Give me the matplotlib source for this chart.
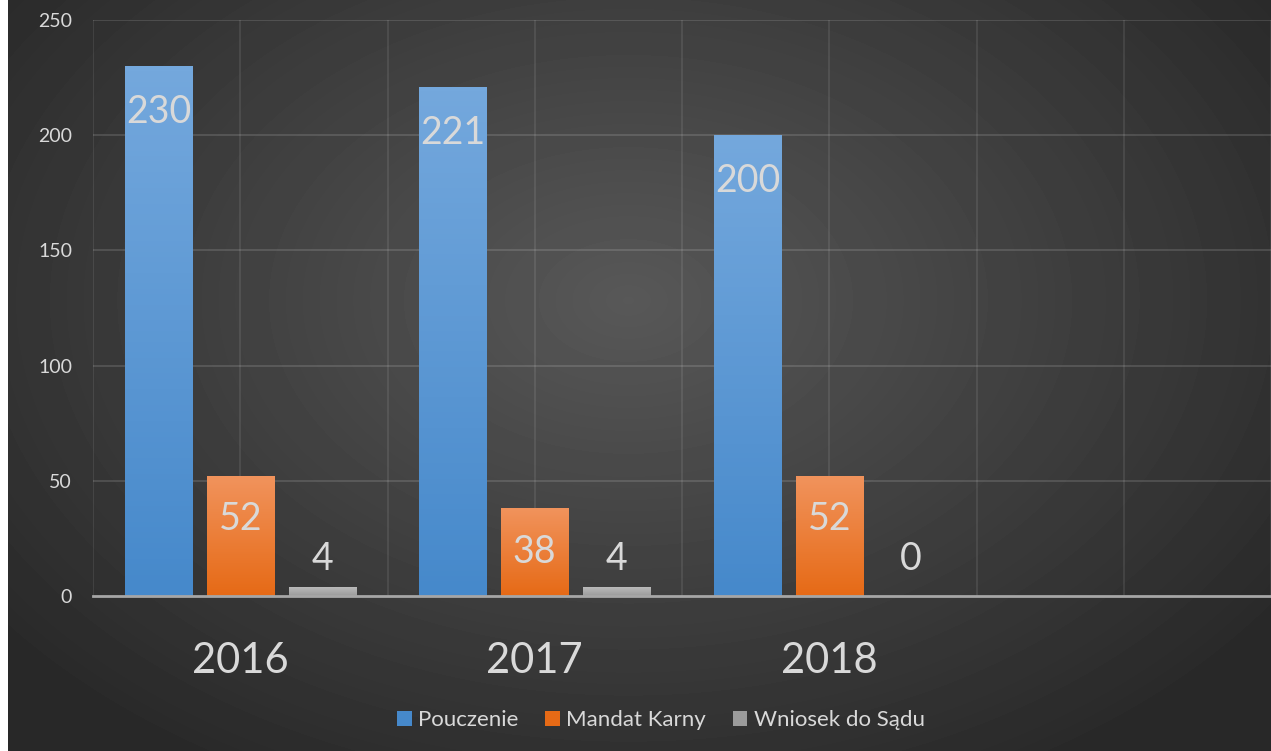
import matplotlib.pyplot as plt
import numpy as np
from matplotlib.patches import Patch
from matplotlib.colors import LinearSegmentedColormap

years = ["2016", "2017", "2018"]
pouczenie = [230, 221, 200]
mandat_karny = [52, 38, 52]
wniosek = [4, 4, 0]
series_names = ["Pouczenie", "Mandat Karny", "Wniosek do Sądu"]
y_ticks = [0, 50, 100, 150, 200, 250]

# top / bottom colours of the bar gradients
grad = {
    "Pouczenie": ("#74a8dd", "#4689cb"),
    "Mandat Karny": ("#f1935c", "#e66a16"),
    "Wniosek do Sądu": ("#bdbdbd", "#9b9b9b"),
}
text_col = "#d9d9d9"
plt.rcParams["font.family"] = ["Lato", "DejaVu Sans"]

W, H = 1271, 751
fig = plt.figure(figsize=(W / 100, H / 100), dpi=100, facecolor="white")

# --------------------------------------------------
# dark radial background
# --------------------------------------------------
bg = fig.add_axes([8 / W, 0, 1 - 8 / W, 1])
yy, xx = np.mgrid[0:H, 0:W - 8]
r = np.sqrt(((xx - 620) / 820.0) ** 2 + ((yy - 300) / 560.0) ** 2)
shade = np.clip(0.345 - 0.19 * r, 0.16, 0.35)
bg.imshow(shade, cmap="gray", vmin=0, vmax=1, aspect="auto", interpolation="bilinear")
bg.axis("off")

ax = fig.add_axes([93 / W, 1 - 596 / H, (W - 93) / W, (596 - 20) / H])
ax.set_facecolor("none")

x = np.arange(len(years))
width = 0.228
step = 0.278
data = [pouczenie, mandat_karny, wniosek]
inside_pad = {"Pouczenie": -33, "Mandat Karny": -31}

for i, (name, vals) in enumerate(zip(series_names, data)):
    offset = (i - 1) * step
    bars = ax.bar(x + offset, vals, width, color=grad[name][1], zorder=3, linewidth=0)
    cmap = LinearSegmentedColormap.from_list(name, [grad[name][1], grad[name][0]])
    for bar, v in zip(bars, vals):
        if v > 0:
            x0 = bar.get_x()
            im = ax.imshow(np.linspace(0, 1, 100).reshape(-1, 1), cmap=cmap, origin="lower",
                           extent=[x0, x0 + bar.get_width(), 0, v], aspect="auto", zorder=4)
            im.set_clip_path(bar)
        cx = bar.get_x() + bar.get_width() / 2
        if name == "Wniosek do Sądu":
            # small bars: label sits above the axis
            ax.annotate(str(v), xy=(cx, 0), xytext=(0, 27), textcoords="offset points",
                        ha="center", va="center", fontsize=27, color=text_col, zorder=6)
        else:
            ax.annotate(str(v), xy=(cx, v), xytext=(0, inside_pad[name]), textcoords="offset points",
                        ha="center", va="center", fontsize=27, color=text_col, zorder=6)

# --------------------------------------------------
# Formatting
# --------------------------------------------------
ax.set_xlim(-0.5, 3.5)
ax.set_ylim(0, 250)
ax.set_yticks(y_ticks)
ax.set_xticks(x)
ax.set_xticklabels(years)
ax.tick_params(axis="x", length=0, pad=33, labelsize=30, labelcolor=text_col)
ax.tick_params(axis="y", length=0, pad=15, labelsize=14, labelcolor=text_col)

for g in np.arange(-0.5, 3.51, 0.5):
    ax.axvline(g, color="white", alpha=0.1, lw=1.2, zorder=1)
for t in y_ticks[1:]:
    ax.axhline(t, color="white", alpha=0.13, lw=1.5, zorder=1)

for s in ["top", "right", "left"]:
    ax.spines[s].set_visible(False)
ax.spines["bottom"].set_color("#a6a6a6")
ax.spines["bottom"].set_linewidth(2)
ax.spines["bottom"].set_zorder(5)

handles = [Patch(facecolor=grad[n][1], edgecolor="none", label=n) for n in series_names]
leg = fig.legend(handles=handles, loc="center", bbox_to_anchor=(661 / W, 1 - 720 / H),
                 ncol=3, frameon=False, fontsize=16, handlelength=0.65, handleheight=0.65,
                 handletextpad=0.3, columnspacing=1.2)
for t in leg.get_texts():
    t.set_color(text_col)

plt.savefig("out.png", dpi=100)
